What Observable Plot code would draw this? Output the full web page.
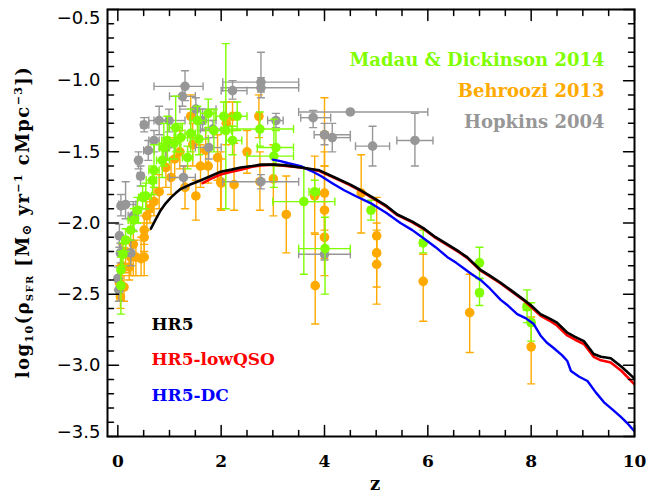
<!DOCTYPE html>
<html><head><meta charset="utf-8">
<script src="https://cdn.jsdelivr.net/npm/d3@7"></script>
<script src="https://cdn.jsdelivr.net/npm/@observablehq/plot@0.6"></script>
<style>body{margin:0;background:#fff}</style>
</head><body><div id="chart"></div>
<script>
// rows: [z, zLow, zHigh, log10 SFRD, low, high]
const madauDickinson2014 = [
  [0.06,0.01,0.10,-2.44,-2.64,-2.24],
  [0.06,0.02,0.10,-2.33,-2.45,-2.20],
  [0.10,0.05,0.15,-2.22,-2.30,-2.14],
  [0.15,0.10,0.20,-2.12,-2.20,-2.04],
  [0.25,0.20,0.30,-2.05,-2.12,-1.98],
  [0.31,0.20,0.40,-1.98,-2.06,-1.90],
  [0.38,0.30,0.45,-1.91,-2.00,-1.82],
  [0.48,0.40,0.55,-1.82,-1.90,-1.74],
  [0.54,0.45,0.65,-1.81,-1.90,-1.72],
  [0.67,0.55,0.75,-1.70,-1.80,-1.60],
  [0.70,0.60,0.80,-1.63,-1.75,-1.45],
  [0.86,0.75,1.00,-1.56,-1.68,-1.44],
  [0.89,0.80,1.00,-1.47,-1.60,-1.30],
  [0.96,0.85,1.10,-1.42,-1.55,-1.25],
  [1.09,1.00,1.20,-1.44,-1.55,-1.33],
  [1.12,1.00,1.25,-1.33,-1.50,-1.11],
  [1.22,1.10,1.35,-1.40,-1.50,-1.30],
  [1.35,1.25,1.45,-1.54,-1.62,-1.46],
  [1.41,1.30,1.50,-1.37,-1.50,-1.20],
  [1.57,1.40,1.75,-1.41,-1.52,-1.30],
  [1.54,1.40,1.70,-1.28,-1.40,-1.18],
  [1.75,1.60,1.90,-1.23,-1.33,-1.13],
  [1.86,1.70,2.00,-1.35,-1.50,-1.20],
  [2.05,1.90,2.20,-1.25,-1.35,-1.15],
  [2.09,2.00,2.20,-1.35,-1.90,-0.74],
  [2.22,2.10,2.40,-1.42,-1.52,-1.32],
  [2.31,2.10,2.50,-1.25,-1.35,-1.15],
  [2.75,2.20,3.40,-1.34,-1.46,-1.22],
  [3.06,2.70,3.40,-1.47,-1.60,-1.35],
  [3.02,2.50,3.40,-1.53,-1.75,-1.27],
  [3.60,3.00,4.20,-1.85,-2.36,-1.61],
  [3.81,3.70,3.90,-1.78,-1.85,-1.70],
  [4.01,3.50,4.50,-2.18,-2.50,-1.96],
  [4.90,4.85,4.95,-1.91,-1.98,-1.84],
  [5.91,5.85,5.95,-2.14,-2.21,-2.05],
  [7.00,6.95,7.05,-2.28,-2.39,-2.17],
  [7.00,6.95,7.05,-2.49,-2.58,-2.39],
  [7.92,7.85,8.00,-2.59,-2.70,-2.47],
  [8.00,7.95,8.05,-2.70,-2.83,-2.56]
];
const behroozi2013 = [
  [0.03,0.03,0.03,-2.42,-2.55,-2.30],
  [0.05,0.05,0.05,-2.52,-2.60,-2.42],
  [0.08,0.08,0.08,-2.30,-2.45,-2.15],
  [0.12,0.12,0.12,-2.45,-2.55,-2.37],
  [0.15,0.15,0.15,-2.20,-2.35,-2.10],
  [0.22,0.15,0.30,-2.31,-2.40,-2.22],
  [0.25,0.25,0.25,-2.24,-2.37,-2.12],
  [0.30,0.30,0.30,-2.15,-2.37,-2.00],
  [0.35,0.35,0.35,-2.24,-2.37,-2.12],
  [0.45,0.45,0.45,-2.25,-2.37,-2.10],
  [0.51,0.51,0.51,-2.24,-2.37,-2.10],
  [0.51,0.51,0.51,-2.10,-2.20,-2.00],
  [0.51,0.51,0.51,-2.05,-2.15,-1.95],
  [0.56,0.56,0.56,-1.95,-2.05,-1.85],
  [0.62,0.62,0.62,-1.90,-2.00,-1.80],
  [0.70,0.70,0.70,-1.85,-1.95,-1.75],
  [0.80,0.80,0.80,-1.78,-1.90,-1.66],
  [0.93,0.93,0.93,-1.61,-1.75,-1.45],
  [1.03,1.03,1.03,-1.68,-1.80,-1.55],
  [1.10,1.10,1.10,-1.55,-1.68,-1.40],
  [1.20,1.20,1.20,-1.50,-1.62,-1.35],
  [1.30,1.30,1.30,-1.75,-1.90,-1.60],
  [1.41,1.41,1.41,-1.25,-1.40,-1.10],
  [1.45,1.45,1.45,-1.45,-1.60,-1.30],
  [1.51,1.51,1.51,-1.81,-1.98,-1.70],
  [1.60,1.60,1.60,-1.60,-1.75,-1.45],
  [1.70,1.70,1.70,-1.49,-1.62,-1.35],
  [1.75,1.75,1.75,-1.60,-1.72,-1.48],
  [1.93,1.93,1.93,-1.54,-1.70,-1.38],
  [1.99,1.99,1.99,-1.71,-1.90,-1.50],
  [2.00,2.00,2.00,-1.72,-1.91,-1.55],
  [2.10,2.10,2.10,-1.30,-1.45,-1.15],
  [2.22,2.22,2.22,-1.25,-1.35,-1.15],
  [2.25,2.25,2.25,-1.73,-1.91,-1.44],
  [2.50,2.50,2.50,-1.50,-1.65,-1.35],
  [2.73,2.73,2.73,-1.25,-1.40,-1.10],
  [2.75,2.75,2.75,-1.71,-1.91,-1.50],
  [3.01,3.01,3.01,-1.69,-1.95,-1.45],
  [3.26,3.26,3.26,-1.94,-2.21,-1.67],
  [3.81,3.81,3.81,-1.81,-2.07,-1.53],
  [3.82,3.82,3.82,-2.44,-2.71,-2.08],
  [4.00,4.00,4.00,-1.38,-1.60,-1.12],
  [4.00,4.00,4.00,-1.79,-2.05,-1.50],
  [4.00,4.00,4.00,-1.91,-2.25,-1.60],
  [4.00,4.00,4.00,-2.10,-2.37,-1.85],
  [4.71,4.71,4.71,-1.79,-2.07,-1.52],
  [5.01,5.01,5.01,-2.09,-2.30,-1.82],
  [5.01,5.01,5.01,-2.21,-2.45,-2.00],
  [5.01,5.01,5.01,-2.29,-2.57,-2.05],
  [5.91,5.91,5.91,-2.41,-2.69,-2.22],
  [6.81,6.81,6.81,-2.63,-2.91,-2.36],
  [8.00,8.00,8.00,-2.87,-3.13,-2.66]
];
const hopkins2004 = [
  [0.00,0.00,0.05,-2.39,-2.47,-2.31],
  [0.02,0.00,0.05,-2.47,-2.55,-2.39],
  [0.03,0.00,0.08,-2.09,-2.17,-2.01],
  [0.05,0.00,0.10,-2.21,-2.28,-2.14],
  [0.06,0.02,0.12,-1.88,-1.95,-1.80],
  [0.15,0.02,0.35,-1.87,-1.97,-1.71],
  [0.25,0.20,0.30,-2.21,-2.30,-2.12],
  [0.30,0.20,0.40,-1.95,-2.05,-1.85],
  [0.40,0.35,0.45,-1.56,-1.62,-1.50],
  [0.44,0.38,0.50,-1.67,-1.74,-1.60],
  [0.51,0.45,0.60,-1.31,-1.36,-1.26],
  [0.59,0.50,0.70,-1.49,-1.56,-1.42],
  [0.70,0.60,0.80,-1.42,-1.50,-1.35],
  [0.80,0.60,1.00,-1.28,-1.38,-1.18],
  [0.93,0.80,1.10,-1.47,-1.55,-1.40],
  [0.99,0.70,1.30,-1.28,-1.36,-1.20],
  [1.25,1.00,1.50,-1.11,-1.18,-1.04],
  [1.30,0.70,1.65,-1.04,-1.14,-0.93],
  [1.27,1.00,1.50,-1.68,-1.76,-1.60],
  [1.51,1.20,1.90,-1.20,-1.28,-1.12],
  [1.64,1.40,1.90,-1.28,-1.35,-1.20],
  [1.76,1.50,2.00,-1.47,-1.55,-1.40],
  [1.84,1.60,2.10,-1.34,-1.40,-1.28],
  [2.22,2.00,2.50,-1.07,-1.13,-1.00],
  [2.77,2.03,3.50,-1.01,-1.08,-0.80],
  [2.77,2.03,3.50,-1.05,-1.12,-0.98],
  [2.77,2.03,3.50,-1.71,-1.76,-1.66],
  [3.06,2.90,3.20,-1.28,-1.33,-1.23],
  [3.78,3.54,4.12,-1.26,-1.33,-1.21],
  [4.50,3.50,6.00,-1.22,-1.22,-1.22],
  [4.00,3.80,4.50,-1.38,-1.45,-1.30],
  [4.15,4.00,4.50,-1.40,-1.50,-1.30],
  [4.93,4.60,5.26,-1.46,-1.60,-1.32],
  [5.75,5.40,6.10,-1.42,-1.60,-1.23],
  [4.00,3.50,4.50,-2.22,-2.26,-2.18]
];

const hr5Z   = [0.64,0.74,0.83,0.93,1.03,1.12,1.22,1.40,1.61,1.80,1.99,2.20,2.38,2.60,2.77,3.02,3.25,3.54,3.90,4.20,4.50,4.70,4.93,5.20,5.41,5.70,5.93,6.15,6.38,6.60,6.76,7.02,7.20,7.41,7.60,7.86,8.00,8.18,8.35,8.50,8.70,8.85,9.02,9.21,9.35,9.54,9.75,9.99];
const hr5SFR = [-2.04,-1.97,-1.91,-1.86,-1.82,-1.79,-1.76,-1.73,-1.70,-1.67,-1.64,-1.625,-1.61,-1.60,-1.59,-1.59,-1.595,-1.61,-1.63,-1.68,-1.73,-1.77,-1.82,-1.88,-1.94,-1.99,-2.04,-2.10,-2.15,-2.20,-2.24,-2.33,-2.37,-2.42,-2.47,-2.54,-2.58,-2.64,-2.67,-2.70,-2.77,-2.80,-2.83,-2.92,-2.94,-2.95,-3.01,-3.09];
const hr5LowQsoZ   = [1.64,1.80,1.99,2.20,2.38,2.60,2.77,3.02,3.25,3.54,3.90,4.20,4.50,4.70,4.93,5.20,5.41,5.70,5.93,6.15,6.38,6.60,6.76,7.02,7.20,7.41,7.60,7.86,8.00,8.18,8.35,8.50,8.70,8.85,9.02,9.21,9.35,9.54,9.75,9.99];
const hr5LowQsoSFR = [-1.72,-1.69,-1.66,-1.64,-1.625,-1.605,-1.595,-1.59,-1.60,-1.61,-1.635,-1.685,-1.735,-1.775,-1.825,-1.885,-1.945,-1.995,-2.045,-2.105,-2.155,-2.205,-2.245,-2.335,-2.375,-2.425,-2.475,-2.545,-2.59,-2.65,-2.685,-2.72,-2.79,-2.82,-2.85,-2.94,-2.965,-2.98,-3.04,-3.13];
const hr5DcZ   = [3.00,3.15,3.30,3.54,3.75,3.93,4.15,4.38,4.60,4.89,5.20,5.47,5.70,5.93,6.15,6.38,6.55,6.70,6.85,7.02,7.20,7.41,7.55,7.73,7.90,8.05,8.18,8.30,8.44,8.60,8.70,8.77,8.93,9.09,9.25,9.41,9.57,9.73,9.87,9.99];
const hr5DcSFR = [-1.555,-1.565,-1.58,-1.60,-1.635,-1.67,-1.72,-1.77,-1.81,-1.86,-1.93,-2.00,-2.05,-2.11,-2.17,-2.24,-2.28,-2.32,-2.36,-2.40,-2.46,-2.54,-2.58,-2.64,-2.67,-2.71,-2.79,-2.84,-2.88,-2.93,-2.97,-3.04,-3.08,-3.11,-3.19,-3.26,-3.31,-3.36,-3.41,-3.46];

const xTicks = [0,2,4,6,8,10];
const xMinorTicks = [0.5,1,1.5,2.5,3,3.5,4.5,5,5.5,6.5,7,7.5,8.5,9,9.5];
const yTicks = [-3.5,-3.0,-2.5,-2.0,-1.5,-1.0,-0.5];
const yMinorTicks = [-3.4,-3.3,-3.2,-3.1,-2.9,-2.8,-2.7,-2.6,-2.4,-2.3,-2.2,-2.1,-1.9,-1.8,-1.7,-1.6,-1.4,-1.3,-1.2,-1.1,-0.9,-0.8,-0.7,-0.6];
const obsLabels = ["Madau & Dickinson 2014","Behroozi 2013","Hopkins 2004"];
const modelLabels = ["HR5","HR5-lowQSO","HR5-DC"];

const GREEN = "#7FFF00", ORANGE = "#FFAA00", GRAY = "#979797";
const SERIF = "DejaVu Serif";

const lineShape = {draw(context, l) { context.moveTo(0, 0); context.lineTo(0, -l); }};

function seriesMarks(rows, color) {
  const hx = rows.filter(d => d[2] > d[1]);
  const vy = rows.filter(d => d[5] > d[4]);
  const s = {stroke: color, strokeWidth: 1.4};
  const cap = {length: 7, anchor: "middle", shape: lineShape, ...s};
  return [
    Plot.link(hx, {x1: d => d[1], x2: d => d[2], y1: d => d[3], y2: d => d[3], ...s}),
    Plot.link(vy, {x1: d => d[0], x2: d => d[0], y1: d => d[4], y2: d => d[5], ...s}),
    Plot.vector(hx, {x: d => d[1], y: d => d[3], rotate: 0, ...cap}),
    Plot.vector(hx, {x: d => d[2], y: d => d[3], rotate: 0, ...cap}),
    Plot.vector(vy, {x: d => d[0], y: d => d[4], rotate: 90, ...cap}),
    Plot.vector(vy, {x: d => d[0], y: d => d[5], rotate: 90, ...cap}),
    Plot.dot(rows, {x: d => d[0], y: d => d[3], r: 4.8, fill: color})
  ];
}

function tickMarks(values, len) {
  const t = {length: len, anchor: "start", shape: lineShape, stroke: "black", strokeWidth: 1.5};
  return [
    Plot.vector(values.x, {x: d => d, frameAnchor: "bottom", rotate: 0, ...t}),
    Plot.vector(values.x, {x: d => d, frameAnchor: "top", rotate: 180, ...t}),
    Plot.vector(values.y, {y: d => d, frameAnchor: "left", rotate: 90, ...t}),
    Plot.vector(values.y, {y: d => d, frameAnchor: "right", rotate: -90, ...t})
  ];
}

const hr5 = hr5Z.map((z, i) => ({z, v: hr5SFR[i]}));
const hr5Low = hr5LowQsoZ.map((z, i) => ({z, v: hr5LowQsoSFR[i]}));
const hr5Dc = hr5DcZ.map((z, i) => ({z, v: hr5DcSFR[i]}));

const txt = {fontFamily: SERIF, fontWeight: "bold", fontSize: 17, text: d => d};
const legendTxt = {...txt, fontSize: 18, letterSpacing: 2, textAnchor: "end", frameAnchor: "top-right", dx: -30};
const yLab = {y: d => d, frameAnchor: "left", dx: -7, textAnchor: "end", text: d => d.toFixed(1).replace("-", "\u2212"), fontFamily: "DejaVu Sans", fontSize: 18, letterSpacing: 1};

const plot = Plot.plot({
  width: 649, height: 495,
  marginLeft: 107, marginRight: 15, marginTop: 9, marginBottom: 59,
  x: {domain: [-0.2, 10], axis: null},
  y: {domain: [-3.5, -0.5], axis: null},
  marks: [
    ...seriesMarks(behroozi2013, ORANGE),
    ...seriesMarks(hopkins2004, GRAY),
    ...seriesMarks(madauDickinson2014, GREEN),
    Plot.line(hr5Low, {x: "z", y: "v", stroke: "#FF0000", strokeWidth: 2.6}),
    Plot.line(hr5Dc, {x: "z", y: "v", stroke: "#0000FF", strokeWidth: 2.4}),
    Plot.line(hr5, {x: "z", y: "v", stroke: "#000000", strokeWidth: 2.6}),
    Plot.frame({stroke: "black", strokeWidth: 2}),
    ...tickMarks({x: xTicks, y: yTicks}, 11),
    ...tickMarks({x: xMinorTicks, y: yMinorTicks}, 6),
    Plot.text(xTicks, {x: d => d, frameAnchor: "bottom", dy: 30, text: d => String(d), fontFamily: SERIF, fontWeight: "bold", fontSize: 17}),
    Plot.text(yTicks.filter(d => d < -0.6 && d > -3.4), yLab),
    Plot.text(yTicks.filter(d => d > -0.6), {...yLab, dy: 9}),
    Plot.text(yTicks.filter(d => d < -3.4), {...yLab, dy: -4}),
    Plot.text(["z"], {frameAnchor: "bottom", dx: 4, dy: 53, ...txt, fontSize: 18}),
    Plot.text([obsLabels[0]], {...legendTxt, dy: 44, fill: GREEN}),
    Plot.text([obsLabels[1]], {...legendTxt, dy: 75, fill: ORANGE}),
    Plot.text([obsLabels[2]], {...legendTxt, dy: 106, fill: GRAY}),
    Plot.text([modelLabels[0]], {frameAnchor: "top-left", dx: 44, dy: 308, textAnchor: "start", fill: "black", ...txt, letterSpacing: 1.2}),
    Plot.text([modelLabels[1]], {frameAnchor: "top-left", dx: 44, dy: 343, textAnchor: "start", fill: "#FF0000", ...txt, letterSpacing: 1.2}),
    Plot.text([modelLabels[2]], {frameAnchor: "top-left", dx: 44, dy: 379, textAnchor: "start", fill: "#0000FF", ...txt, letterSpacing: 1.2})
  ]
});

// y-axis title with sub/superscripts
const svg = d3.select(plot);
const t = svg.append("text")
  .attr("transform", "translate(29,222) rotate(-90)")
  .attr("text-anchor", "middle")
  .attr("font-family", SERIF).attr("font-weight", "bold").attr("font-size", 18)
  .attr("letter-spacing", 1.4).attr("fill", "black");
t.append("tspan").text("log");
t.append("tspan").attr("font-size", 11).attr("dy", 4).text("10");
t.append("tspan").attr("dy", -4).text("(\u03C1");
t.append("tspan").attr("font-size", 10).attr("dy", 4).text("SFR");
t.append("tspan").attr("dy", -4).text(" [M");
t.append("tspan").attr("font-size", 13).attr("dy", 2).text("\u2299");
t.append("tspan").attr("dy", -2).text(" yr");
t.append("tspan").attr("font-size", 11).attr("dy", -7).text("\u22121");
t.append("tspan").attr("dy", 7).text(" cMpc");
t.append("tspan").attr("font-size", 11).attr("dy", -7).text("\u22123");
t.append("tspan").attr("dy", 7).text("])");

document.getElementById("chart").appendChild(plot);
</script>
</body></html>
